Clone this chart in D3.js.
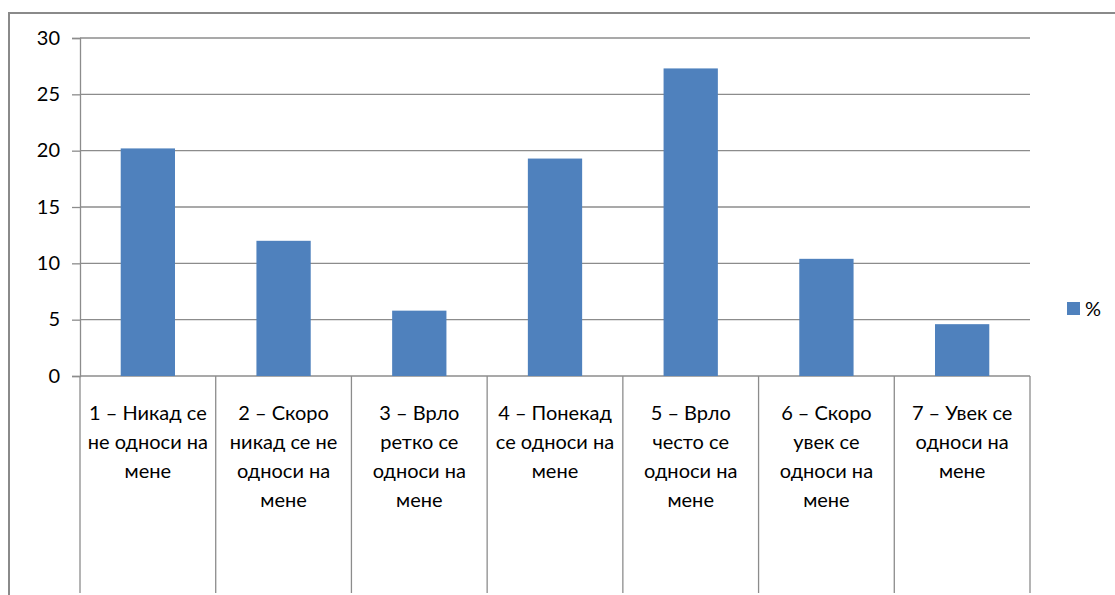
<!DOCTYPE html>
<html><head><meta charset="utf-8">
<script src="https://cdn.jsdelivr.net/npm/d3@7"></script>
<style>
html,body{margin:0;padding:0;background:#fff;}
svg{display:block;font-family:Lato,"Open Sans",sans-serif;}
</style></head>
<body>
<svg id="c" width="1115" height="595"></svg>
<script>
const categories = [
  ["1 – Никад се","не односи на","мене"],
  ["2 – Скоро","никад се не","односи на","мене"],
  ["3 – Врло","ретко се","односи на","мене"],
  ["4 – Понекад","се односи на","мене"],
  ["5 – Врло","често се","односи на","мене"],
  ["6 – Скоро","увек се","односи на","мене"],
  ["7 – Увек се","односи на","мене"]
];
const values = [20.2, 12.0, 5.8, 19.3, 27.3, 10.4, 4.6];
const yTicks = [0, 5, 10, 15, 20, 25, 30];
const seriesName = "%";

(function(){
const svg = d3.select("#c");
const mLeft = 80, mRight = 1030, mTop = 38, mBottom = 376;
const gridColor = "#8c8c8c", barColor = "#4f81bd";
const fs = 20;

svg.append("path").attr("d","M9,595 V13 H1115").attr("fill","none")
  .attr("stroke","#8a8a8a").attr("stroke-width",2);

const x = d3.scaleBand().domain(d3.range(categories.length)).range([mLeft, mRight]).padding(0);
const y = d3.scaleLinear().domain([0, 30]).range([mBottom, mTop]);

svg.append("g").selectAll("line").data(yTicks.filter(d=>d>0)).join("line")
  .attr("x1", mLeft).attr("x2", mRight).attr("y1", d=>y(d)).attr("y2", d=>y(d))
  .attr("stroke", gridColor).attr("stroke-width", 1.3);

const yAxis = d3.axisLeft(y).tickValues(yTicks).tickSize(8).tickPadding(12).tickFormat(d3.format("d"));
const gy = svg.append("g").attr("transform", `translate(${mLeft},0)`).call(yAxis);
gy.select(".domain").attr("stroke", gridColor).attr("stroke-width",1.3);
gy.selectAll(".tick line").attr("stroke", gridColor).attr("stroke-width",1.3);
gy.selectAll(".tick text").attr("font-size", fs).attr("fill", "#000").attr("font-family","Lato,'Open Sans',sans-serif").attr("dy","0.3em");

svg.append("line").attr("x1", mLeft).attr("x2", mRight).attr("y1", y(0)).attr("y2", y(0))
  .attr("stroke", gridColor).attr("stroke-width", 1.3);

const dividers = d3.range(categories.length + 1).map(i => i < categories.length ? x(i) : mRight);
svg.append("g").selectAll("line").data(dividers).join("line")
  .attr("x1", d=>d).attr("x2", d=>d).attr("y1", y(0)).attr("y2", 593)
  .attr("stroke", gridColor).attr("stroke-width", 1.3);

const bw = x.bandwidth() * 0.4;
svg.append("g").selectAll("rect").data(values).join("rect")
  .attr("x", (d,i)=> x(i) + x.bandwidth()/2 - bw/2)
  .attr("y", d=> y(d)).attr("width", bw).attr("height", d=> y(0) - y(d))
  .attr("fill", barColor);

const lg = svg.append("g");
categories.forEach((lines, i) => {
  const t = lg.append("text").attr("text-anchor","middle").attr("font-size",fs).attr("fill","#000");
  lines.forEach((s, j) => {
    t.append("tspan").attr("x", x(i) + x.bandwidth()/2).attr("y", 420 + j*29).text(s);
  });
});

svg.append("rect").attr("x", 1067).attr("y", 302).attr("width", 13).attr("height", 13).attr("fill", barColor);
svg.append("text").attr("x", 1085).attr("y", 316).attr("font-size", fs).attr("fill","#000").text(seriesName);
})();
</script>
</body></html>
